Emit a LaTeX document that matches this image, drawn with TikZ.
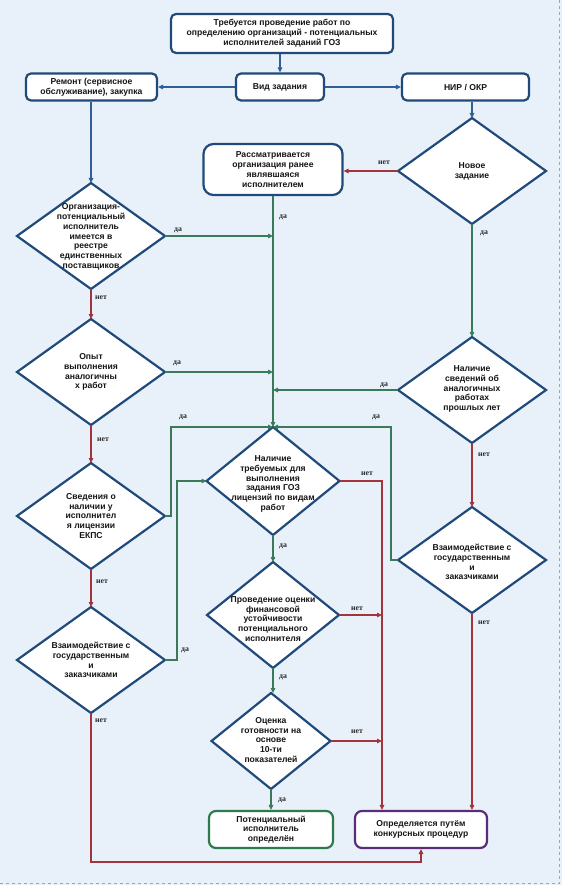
\documentclass[tikz,border=0pt]{standalone}
\usepackage{fontspec}
\setmainfont{Liberation Sans}
\newfontfamily\labfont{Liberation Serif}
\usetikzlibrary{shapes.geometric,arrows.meta}
\definecolor{bgc}{HTML}{E8F0FA}
\definecolor{dblue}{HTML}{1F4A7A}
\definecolor{cblue}{HTML}{2F5F95}
\definecolor{cgreen}{HTML}{3A7A58}
\definecolor{bgreen}{HTML}{2E7A4C}
\definecolor{cred}{HTML}{A3343C}
\definecolor{bpurple}{HTML}{5A2C7A}
\definecolor{txtc}{HTML}{151515}
\definecolor{labc}{HTML}{2A2A2A}
\begin{document}
\begin{tikzpicture}[x=1pt,y=-1pt,
  box/.style={draw=dblue, line width=2.2pt, fill=white, rounded corners=5pt, inner sep=0pt},
  dia/.style={diamond, draw=dblue, line width=2.2pt, fill=white, inner sep=0pt, outer sep=0pt},
  txt/.style={font=\bfseries\fontsize{8.6}{9.8}\selectfont, align=center, text=txtc, inner sep=0pt},
  lab/.style={font=\labfont\bfseries\fontsize{7.8}{8}\selectfont, text=labc, inner sep=0pt},
  tip/.style={-{Triangle[length=5pt,width=4.5pt]}},
  bl/.style={draw=cblue, line width=1.5pt, tip},
  gr/.style={draw=cgreen, line width=1.3pt, tip},
  rd/.style={draw=cred, line width=1.3pt, tip}
]
\useasboundingbox (0,0) rectangle (562,885);
\fill[bgc] (0,0) rectangle (562,885);
\draw[gray!70, dashed, line width=0.6pt] (559.5,0) -- (559.5,883.5) -- (0,883.5);

% boxes
\node[box, txt, minimum width=222pt, minimum height=39pt] (top) at (282,33.5)
  {Требуется проведение работ по\\определению организаций - потенциальных\\исполнителей заданий ГОЗ};
\node[box, txt, minimum width=88pt, minimum height=27pt] (vid) at (280,87) {Вид задания};
\node[box, txt, minimum width=131pt, minimum height=27pt] (rem) at (91.5,87)
  {Ремонт (сервисное\\обслуживание), закупка};
\node[box, txt, minimum width=127pt, minimum height=27pt] (nir) at (465.5,87) {НИР / ОКР};
\node[box, txt, rounded corners=10pt, minimum width=139pt, minimum height=51pt] (ras) at (273,169.5)
  {Рассматривается\\организация ранее\\являвшаяся\\исполнителем};
\node[box, txt, draw=bgreen, rounded corners=7pt, minimum width=124pt, minimum height=37pt] (pot) at (271,829.5)
  {Потенциальный\\исполнитель\\определён};
\node[box, txt, draw=bpurple, rounded corners=7pt, minimum width=132pt, minimum height=37pt] (kon) at (421,829.5)
  {Определяется путём\\конкурсных процедур};

% diamonds left column
\node[dia, minimum width=148pt, minimum height=106pt] (d1) at (91,236) {};
\node[txt] (d1t) at (91,237) {Организация-\\потенциальный\\исполнитель\\имеется в\\реестре\\единственных\\поставщиков};
\node[dia, minimum width=148pt, minimum height=106pt] (opyt) at (91,372) {};
\node[txt] (opytt) at (91,372) {Опыт\\выполнения\\аналогичны\\х работ};
\node[dia, minimum width=148pt, minimum height=106pt] (sved) at (91,516) {};
\node[txt] (svedt) at (91,516) {Сведения о\\наличии у\\исполнител\\я лицензии\\ЕКПС};
\node[dia, minimum width=148pt, minimum height=106pt] (vzl) at (91,660) {};
\node[txt] (vzlt) at (91,660) {Взаимодействие с\\государственным\\и\\заказчиками};

% diamonds right column
\node[dia, minimum width=148pt, minimum height=106pt] (nov) at (472,171) {};
\node[txt] (novt) at (472,171) {Новое\\задание};
\node[dia, minimum width=148pt, minimum height=106pt] (nals) at (472,390) {};
\node[txt] (nalst) at (472,389) {Наличие\\сведений об\\аналогичных\\работах\\прошлых лет};
\node[dia, minimum width=148pt, minimum height=106pt] (vzr) at (472,560) {};
\node[txt] (vzrt) at (472,562) {Взаимодействие с\\государственным\\и\\заказчиками};

% diamonds middle column
\node[dia, minimum width=133pt, minimum height=108pt] (nal) at (273,481) {};
\node[txt] (nalt) at (273,484) {Наличие\\требуемых для\\выполнения\\задания ГОЗ\\лицензий по видам\\работ};
\node[dia, minimum width=132pt, minimum height=106pt] (prov) at (273,615) {};
\node[txt] (provt) at (273,619) {Проведение оценки\\финансовой\\устойчивости\\потенциального\\исполнителя};
\node[dia, minimum width=119pt, minimum height=96pt] (ocen) at (271,741) {};
\node[txt] (ocent) at (271,740) {Оценка\\готовности на\\основе\\10-ти\\показателей};

% blue connectors
\draw[bl] (top.south -| vid.north) -- (vid.north);
\draw[bl] (vid.west) -- (rem.east);
\draw[bl] (vid.east) -- (nir.west);
\draw[bl] (rem.south -| d1.north) -- (d1.north);
\draw[bl] (nov.north |- nir.south) -- (nov.north);

% green connectors
\draw[gr] (ras.south) -- (nal.north);
\draw[gr] (d1.east) -- (d1.east -| ras.south);
\draw[gr] (opyt.east) -- (opyt.east -| ras.south);
\draw[gr] (nals.west) -- (nals.west -| ras.south);
\draw[gr] (nov.south) -- (nals.north);
\draw[gr] (sved.east) -- ++(6,0) |- (nal.north);
\draw[gr] (vzr.west) -- ++(-7,0) |- (nal.north);
\draw[gr] (vzl.east) -- ++(12,0) |- (nal.west);
\draw[gr] (nal.south) -- (prov.north);
\draw[gr] (prov.south) -- (prov.south |- ocen.north);
\draw[gr] (ocen.south) -- (pot.north -| ocen.south);

% red connectors
\draw[rd] (nov.west) -- (nov.west -| ras.east);
\draw[rd] (d1.south) -- (opyt.north);
\draw[rd] (opyt.south) -- (sved.north);
\draw[rd] (sved.south) -- (vzl.north);
\draw[rd] (nals.south) -- (vzr.north);
\draw[rd] (vzr.south) -- (vzr.south |- kon.north);
\draw[rd] (vzl.south) -- (91,862) -| (kon.south);
\coordinate (rx) at (382,0);
\draw[rd] (nal.east) -| (rx |- kon.north);
\draw[rd] (prov.east) -- (prov.east -| rx);
\draw[rd] (ocen.east) -- (ocen.east -| rx);

% labels
\node[lab] (l1) at (178,230) {да};
\node[lab] (l2) at (283,217) {да};
\node[lab] (l3) at (384,163) {нет};
\node[lab] (l4) at (484,233) {да};
\node[lab] (l5) at (177,363) {да};
\node[lab] (l6) at (384,385) {да};
\node[lab] (l7) at (484,455) {нет};
\node[lab] (l8) at (183,417) {да};
\node[lab] (l9) at (376,417) {да};
\node[lab] (l10) at (101,298) {нет};
\node[lab] (l11) at (103,440) {нет};
\node[lab] (l12) at (102,582) {нет};
\node[lab] (l13) at (185,650) {да};
\node[lab] (l14) at (101,721) {нет};
\node[lab] (l15) at (367,474) {нет};
\node[lab] (l16) at (283,546) {да};
\node[lab] (l17) at (357,609) {нет};
\node[lab] (l18) at (283,677) {да};
\node[lab] (l19) at (357,732) {нет};
\node[lab] (l20) at (282,800) {да};
\node[lab] (l21) at (484,623) {нет};
\end{tikzpicture}
\end{document}
